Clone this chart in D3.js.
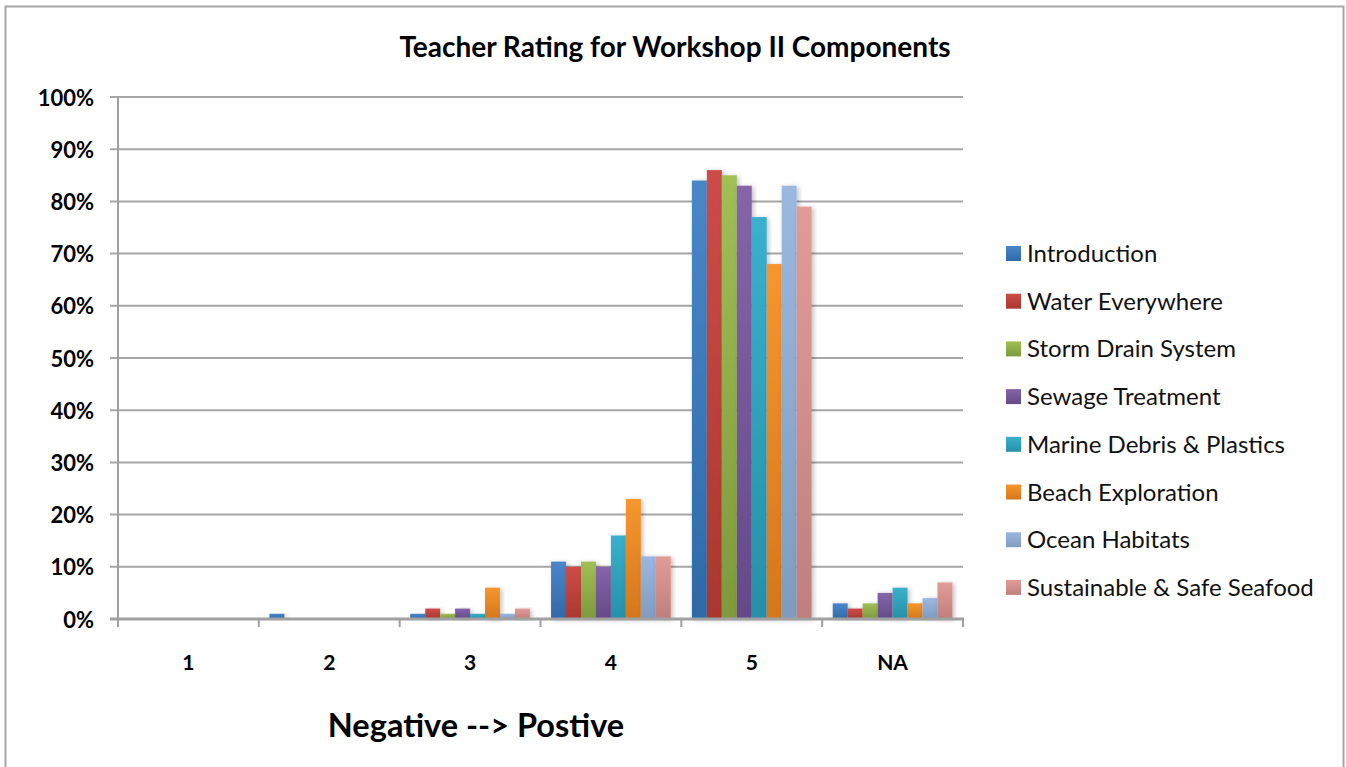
<!DOCTYPE html>
<html><head><meta charset="utf-8">
<script src="https://cdn.jsdelivr.net/npm/d3@7"></script>
<style>body{margin:0;background:#fff;}svg{display:block;}</style>
</head><body>
<svg id="c" width="1346" height="767"></svg>
<script>
const categories = ["1","2","3","4","5","NA"];
const seriesNames = ["Introduction","Water Everywhere","Storm Drain System","Sewage Treatment","Marine Debris & Plastics","Beach Exploration","Ocean Habitats","Sustainable & Safe Seafood"];
const introduction = [0,1,1,11,84,3];
const waterEverywhere = [0,0,2,10,86,2];
const stormDrain = [0,0,1,11,85,3];
const sewage = [0,0,2,10,83,5];
const marineDebris = [0,0,1,16,77,6];
const beachExploration = [0,0,6,23,68,3];
const oceanHabitats = [0,0,1,12,83,4];
const seafood = [0,0,2,12,79,7];
const seriesValues = [introduction,waterEverywhere,stormDrain,sewage,marineDebris,beachExploration,oceanHabitats,seafood];
const yTicks = [0,10,20,30,40,50,60,70,80,90,100];
const colors = [["#4a86c8","#2f69a8"],["#cd4c48","#a8382f"],["#a0bf55","#7d9a3c"],["#8565a8","#654a89"],["#3ab0cc","#2690a8"],["#f7962e","#d4771c"],["#9bb8e0","#7f9bc0"],["#e29c98","#bf7f7c"]];

(function(){
const svg = d3.select("#c");
const font = "Lato, 'Open Sans', sans-serif";
svg.append("rect").attr("x",5.5).attr("y",6.5).attr("width",1338).attr("height",800)
  .attr("fill","#fff").attr("stroke","#a6a6a6").attr("stroke-width",2);

const defs = svg.append("defs");
colors.forEach((c,i)=>{
  const g = defs.append("linearGradient").attr("id","g"+i).attr("x1",0).attr("y1",0).attr("x2",0).attr("y2",1);
  g.append("stop").attr("offset","0%").attr("stop-color",c[0]);
  g.append("stop").attr("offset","100%").attr("stop-color",c[1]);
});
const f = defs.append("filter").attr("id","sh").attr("x","-30%").attr("y","-10%").attr("width","160%").attr("height","120%");
f.append("feDropShadow").attr("dx",2).attr("dy",1).attr("stdDeviation",2.5).attr("flood-color","#000").attr("flood-opacity",0.25);

const pL=118, pR=963, pT=97, pB=619;
const x = d3.scaleBand().domain(categories).range([pL,pR]).paddingInner(0.15).paddingOuter(0.075);
const x0 = d3.scaleBand().domain(categories).range([pL,pR]);
const xs = d3.scaleBand().domain(d3.range(8)).range([0,x.bandwidth()]);
const y = d3.scaleLinear().domain([0,100]).range([pB,pT]);

svg.append("g").selectAll("line").data(yTicks.filter(d=>d>0)).join("line")
  .attr("x1",pL-8).attr("x2",pR).attr("y1",d=>y(d)).attr("y2",d=>y(d))
  .attr("stroke","#a6a6a6").attr("stroke-width",2);

const groups = svg.append("g").selectAll("g").data(categories).join("g")
  .attr("transform",c=>`translate(${x(c)},0)`);
groups.selectAll("rect").data((c,ci)=>seriesValues.map((s,si)=>({si,v:s[ci]})).filter(d=>d.v>0)).join("rect")
  .attr("x",d=>xs(d.si)).attr("width",xs.bandwidth())
  .attr("y",d=>y(d.v)).attr("height",d=>pB-y(d.v))
  .attr("fill",d=>`url(#g${d.si})`).attr("filter","url(#sh)");

svg.append("line").attr("x1",pL).attr("x2",pL).attr("y1",pT).attr("y2",pB+1).attr("stroke","#a0a0a0").attr("stroke-width",2);
svg.append("line").attr("x1",pL-8).attr("x2",pR+1).attr("y1",pB).attr("y2",pB).attr("stroke","#a0a0a0").attr("stroke-width",3);
const tickXs = categories.map(c=>x0(c)).concat([pR]);
svg.append("g").selectAll("line").data(tickXs).join("line")
  .attr("x1",d=>d).attr("x2",d=>d).attr("y1",pB).attr("y2",pB+8).attr("stroke","#a0a0a0").attr("stroke-width",2);

svg.append("g").selectAll("text").data(yTicks).join("text")
  .attr("x",94).attr("y",d=>y(d)+8.5).attr("text-anchor","end")
  .attr("font-family",font).attr("font-weight","bold").attr("font-size",22).text(d=>d+"%");
svg.append("g").selectAll("text").data(categories).join("text")
  .attr("x",c=>x0(c)+x0.bandwidth()/2).attr("y",670).attr("text-anchor","middle")
  .attr("font-family",font).attr("font-weight","bold").attr("font-size",21).text(d=>d);

svg.append("text").attr("x",675).attr("y",57).attr("text-anchor","middle")
  .attr("font-family",font).attr("font-weight","bold").attr("font-size",28).text("Teacher Rating for Workshop II Components");
svg.append("text").attr("x",476).attr("y",737).attr("text-anchor","middle")
  .attr("font-family",font).attr("font-weight","bold").attr("font-size",32.5).text("Negative --> Postive");

const lg = svg.append("g").selectAll("g").data(seriesNames).join("g")
  .attr("transform",(d,i)=>`translate(1006,${254+i*47.7})`);
lg.append("rect").attr("x",0).attr("y",-8).attr("width",15).attr("height",15).attr("fill",(d,i)=>`url(#g${i})`);
lg.append("text").attr("x",21).attr("y",8).attr("font-family",font).attr("font-size",24).attr("fill","#111").text(d=>d);
})();
</script>
</body></html>
